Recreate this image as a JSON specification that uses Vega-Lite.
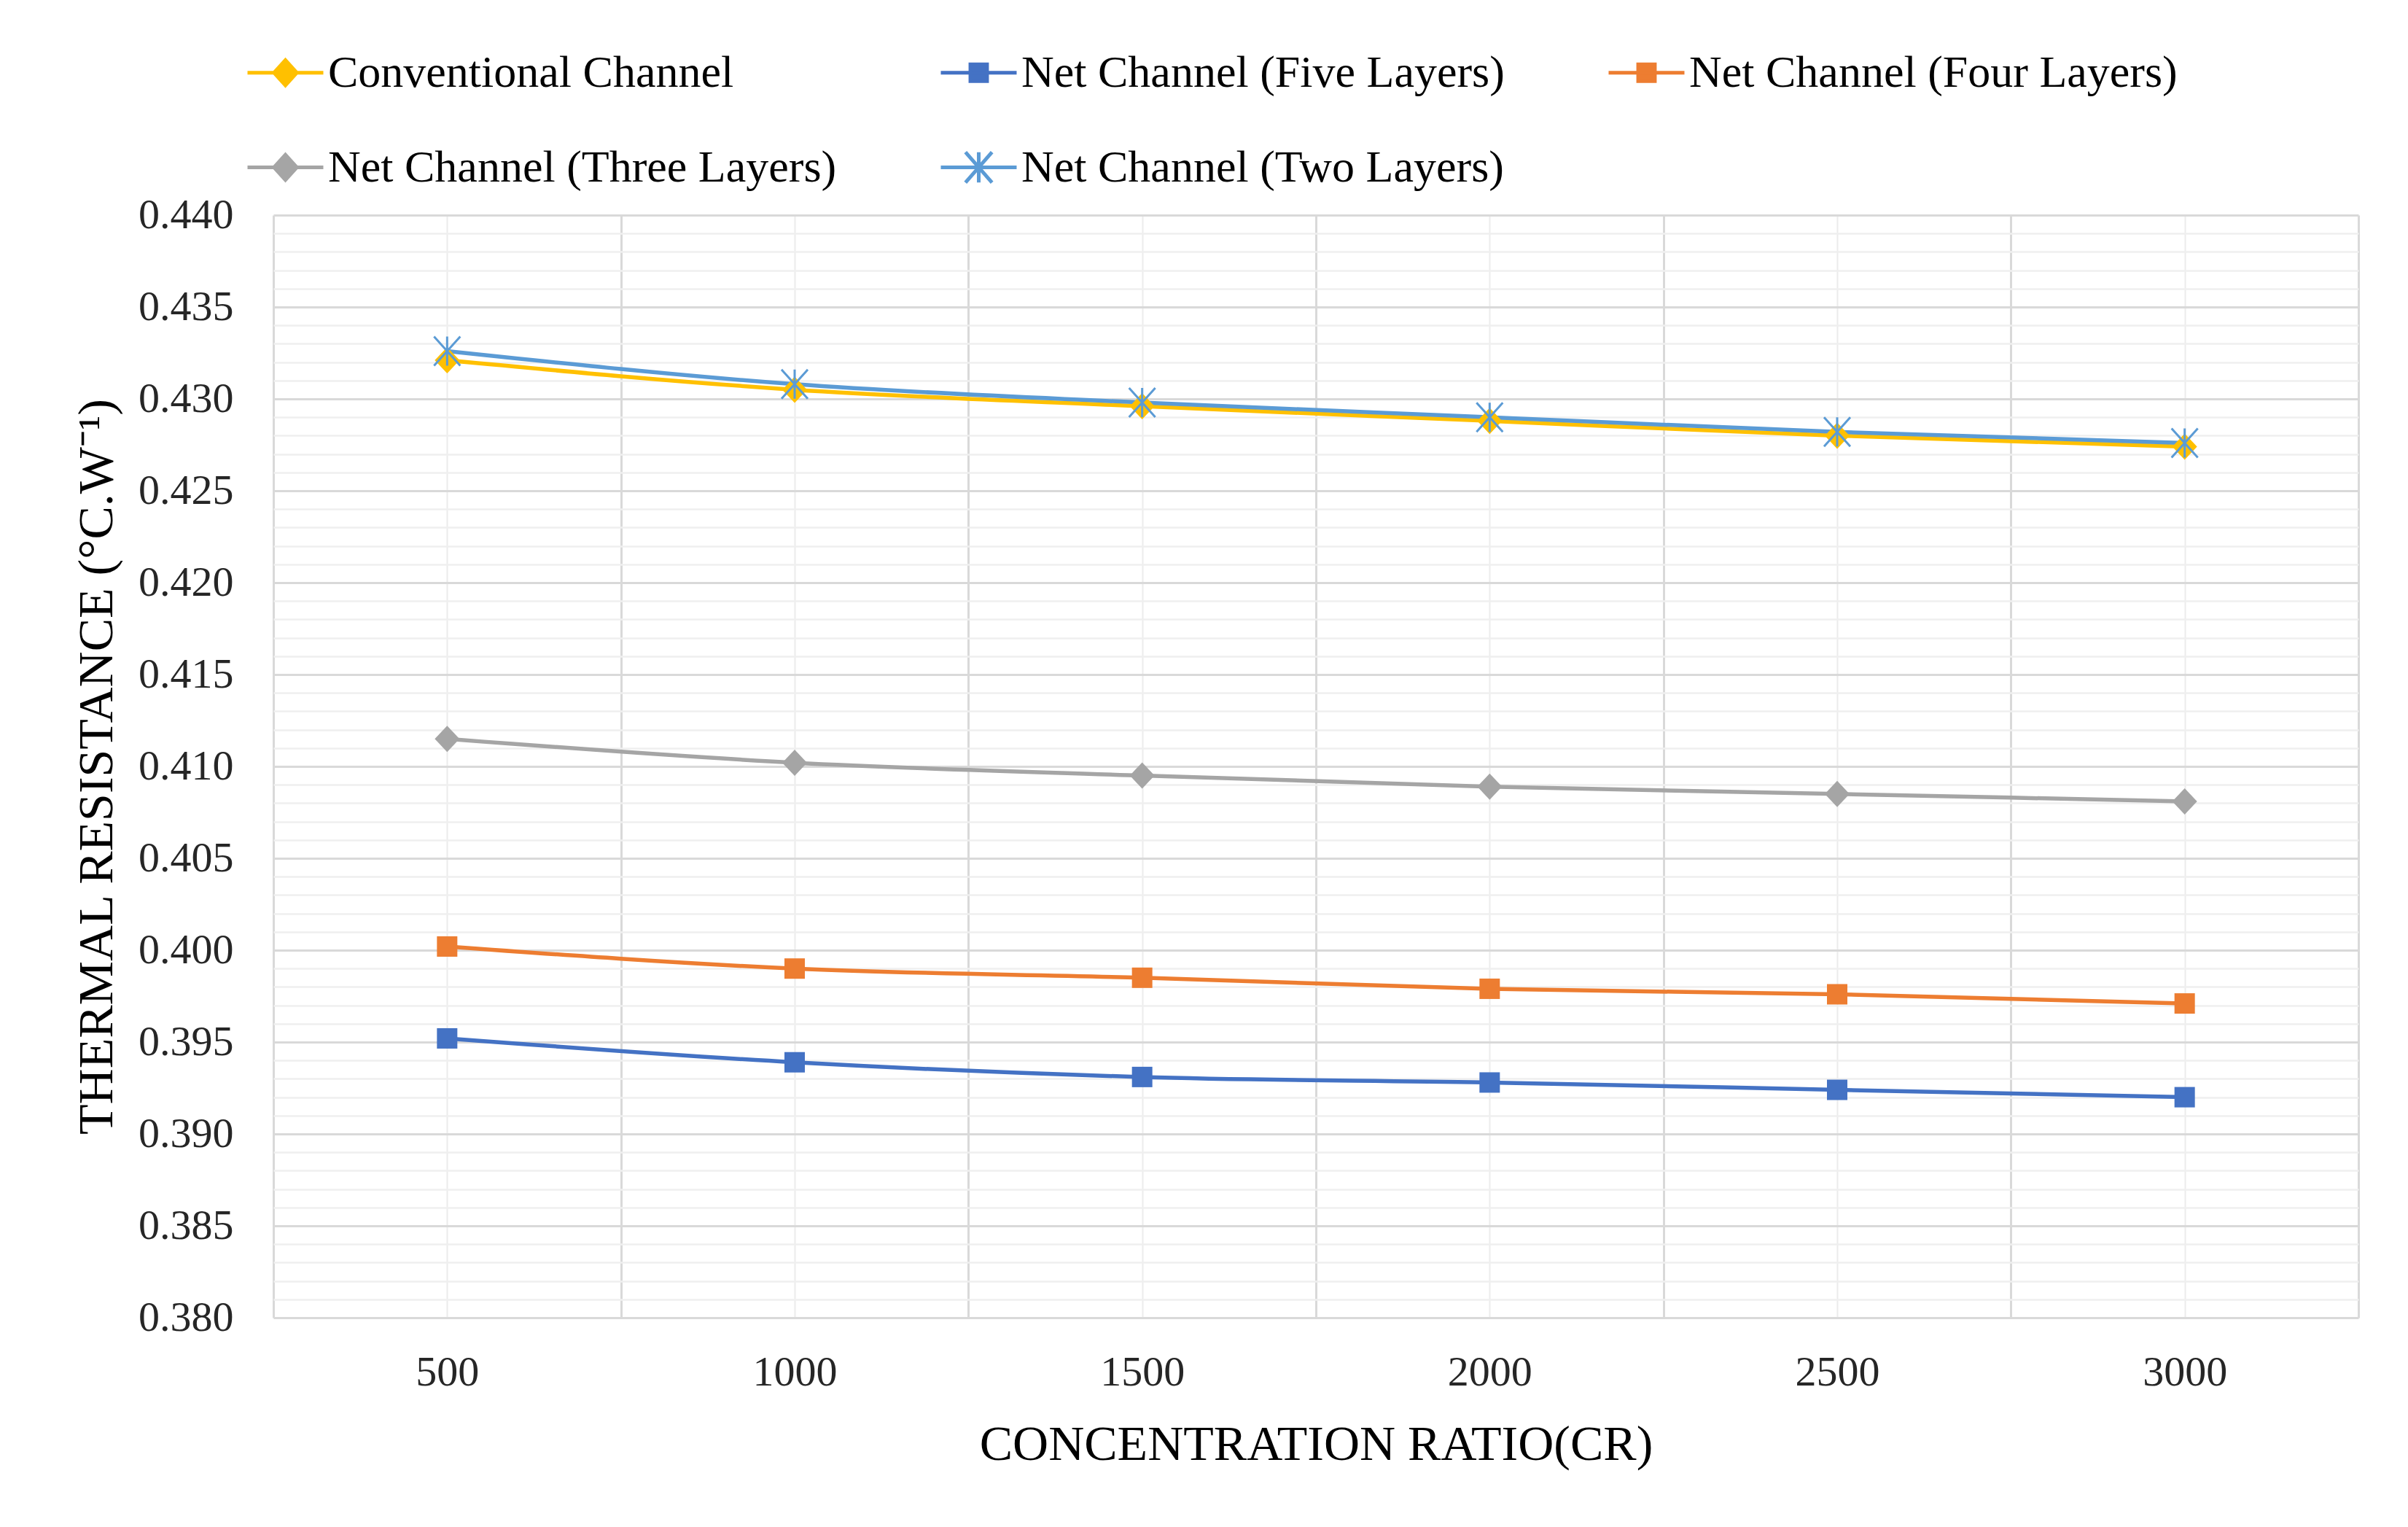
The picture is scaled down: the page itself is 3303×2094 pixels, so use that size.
{
  "$schema": "https://vega.github.io/schema/vega-lite/v6.json",
  "autosize": {"type": "none"},
  "padding": {"left": 375, "top": 295, "right": 68, "bottom": 287},
  "width": 2860,
  "height": 1512,
  "background": "white",
  "config": {"view": {"stroke": null}},
  "data": {"values": [
    {"cr": 500, "series": "Conventional Channel", "r": 0.4321},
    {"cr": 1000, "series": "Conventional Channel", "r": 0.4305},
    {"cr": 1500, "series": "Conventional Channel", "r": 0.4296},
    {"cr": 2000, "series": "Conventional Channel", "r": 0.4288},
    {"cr": 2500, "series": "Conventional Channel", "r": 0.4280},
    {"cr": 3000, "series": "Conventional Channel", "r": 0.4274},
    {"cr": 500, "series": "Net Channel (Five Layers)", "r": 0.3952},
    {"cr": 1000, "series": "Net Channel (Five Layers)", "r": 0.3939},
    {"cr": 1500, "series": "Net Channel (Five Layers)", "r": 0.3931},
    {"cr": 2000, "series": "Net Channel (Five Layers)", "r": 0.3928},
    {"cr": 2500, "series": "Net Channel (Five Layers)", "r": 0.3924},
    {"cr": 3000, "series": "Net Channel (Five Layers)", "r": 0.3920},
    {"cr": 500, "series": "Net Channel (Four Layers)", "r": 0.4002},
    {"cr": 1000, "series": "Net Channel (Four Layers)", "r": 0.3990},
    {"cr": 1500, "series": "Net Channel (Four Layers)", "r": 0.3985},
    {"cr": 2000, "series": "Net Channel (Four Layers)", "r": 0.3979},
    {"cr": 2500, "series": "Net Channel (Four Layers)", "r": 0.3976},
    {"cr": 3000, "series": "Net Channel (Four Layers)", "r": 0.3971},
    {"cr": 500, "series": "Net Channel (Three Layers)", "r": 0.4115},
    {"cr": 1000, "series": "Net Channel (Three Layers)", "r": 0.4102},
    {"cr": 1500, "series": "Net Channel (Three Layers)", "r": 0.4095},
    {"cr": 2000, "series": "Net Channel (Three Layers)", "r": 0.4089},
    {"cr": 2500, "series": "Net Channel (Three Layers)", "r": 0.4085},
    {"cr": 3000, "series": "Net Channel (Three Layers)", "r": 0.4081},
    {"cr": 500, "series": "Net Channel (Two Layers)", "r": 0.4326},
    {"cr": 1000, "series": "Net Channel (Two Layers)", "r": 0.4308},
    {"cr": 1500, "series": "Net Channel (Two Layers)", "r": 0.4298},
    {"cr": 2000, "series": "Net Channel (Two Layers)", "r": 0.4290},
    {"cr": 2500, "series": "Net Channel (Two Layers)", "r": 0.4282},
    {"cr": 3000, "series": "Net Channel (Two Layers)", "r": 0.4276}
  ]},
  "encoding": {
    "x": {
      "field": "cr", "type": "quantitative",
      "scale": {"domain": [250, 3250], "nice": false, "zero": false},
      "axis": {
        "values": [250, 500, 750, 1000, 1250, 1500, 1750, 2000, 2250, 2500, 2750, 3000, 3250],
        "labelExpr": "datum.value % 500 === 0 ? format(datum.value, 'd') : ''",
        "labelOverlap": false,
        "labelBound": false,
        "grid": true,
        "gridColor": {"condition": {"test": "datum.value % 500 === 250", "value": "#d9d9d9"}, "value": "#ececec"},
        "gridWidth": {"condition": {"test": "datum.value % 500 === 250", "value": 3}, "value": 2},
        "ticks": false,
        "domain": false,
        "labelFont": "Liberation Serif",
        "labelFontSize": 58,
        "labelColor": "#262626",
        "labelPadding": 46,
        "title": "CONCENTRATION RATIO(CR)",
        "titleFont": "Liberation Serif",
        "titleFontSize": 68,
        "titleFontWeight": "normal",
        "titleColor": "#000000",
        "titlePadding": 36
      }
    },
    "y": {
      "field": "r", "type": "quantitative",
      "scale": {"domain": [0.38, 0.44], "nice": false, "zero": false},
      "axis": {
        "values": [0.380, 0.381, 0.382, 0.383, 0.384, 0.385, 0.386, 0.387, 0.388, 0.389, 0.390, 0.391, 0.392, 0.393, 0.394, 0.395, 0.396, 0.397, 0.398, 0.399, 0.400, 0.401, 0.402, 0.403, 0.404, 0.405, 0.406, 0.407, 0.408, 0.409, 0.410, 0.411, 0.412, 0.413, 0.414, 0.415, 0.416, 0.417, 0.418, 0.419, 0.420, 0.421, 0.422, 0.423, 0.424, 0.425, 0.426, 0.427, 0.428, 0.429, 0.430, 0.431, 0.432, 0.433, 0.434, 0.435, 0.436, 0.437, 0.438, 0.439, 0.440],
        "labelExpr": "round(datum.value * 1000) % 5 === 0 ? format(datum.value, '.3f') : ''",
        "labelOverlap": false,
        "labelBound": false,
        "grid": true,
        "gridColor": {"condition": {"test": "round(datum.value * 1000) % 5 === 0", "value": "#d9d9d9"}, "value": "#efefef"},
        "gridWidth": {"condition": {"test": "round(datum.value * 1000) % 5 === 0", "value": 3}, "value": 2.5},
        "ticks": false,
        "domain": false,
        "labelFont": "Liberation Serif",
        "labelFontSize": 58,
        "labelColor": "#262626",
        "labelPadding": 55,
        "title": "THERMAL RESISTANCE (°C.W⁻¹)",
        "titleFont": "Liberation Serif",
        "titleFontSize": 68,
        "titleFontWeight": "normal",
        "titleColor": "#000000",
        "titlePadding": 22
      }
    }
  },
  "layer": [
    {
      "mark": {"type": "line", "interpolate": "monotone", "strokeWidth": 5.5},
      "encoding": {
        "color": {
          "field": "series", "type": "nominal",
          "scale": {
            "domain": ["Conventional Channel", "Net Channel (Five Layers)", "Net Channel (Four Layers)", "Net Channel (Three Layers)", "Net Channel (Two Layers)"],
            "range": ["#FFC000", "#4472C4", "#ED7D31", "#A5A5A5", "#5B9BD5"]
          },
          "legend": {
            "orient": "none",
            "legendX": -38,
            "legendY": -250,
            "direction": "horizontal",
            "columns": 3,
            "title": null,
            "symbolType": "circle",
            "symbolSize": 10816,
            "symbolStrokeWidth": 5,
            "labelFont": "Liberation Serif",
            "labelFontSize": 62,
            "labelColor": "#000000",
            "labelOffset": 4,
            "labelLimit": 0,
            "columnPadding": 132,
            "rowPadding": 44,
            "encode": {
              "symbols": {
                "update": {
                  "shape": {"signal": "datum.value === 'Net Channel (Two Layers)' ? 'M-1,0H1M-0.35,-0.4L0.35,0.4M-0.35,0.4L0.35,-0.4M0,-0.4V0.4' : ((datum.value === 'Net Channel (Five Layers)' || datum.value === 'Net Channel (Four Layers)') ? 'M-1,0H1M-0.22,-0.22H0.22V0.22H-0.22Z' : 'M-1,0H1M-0.3,0L0,-0.33L0.3,0L0,0.33Z')"},
                  "fill": {"scale": "color", "field": "value"},
                  "stroke": {"scale": "color", "field": "value"},
                  "opacity": {"value": 1}
                }
              }
            }
          }
        }
      }
    },
    {
      "transform": [{"filter": "datum.series !== 'Net Channel (Two Layers)'"}],
      "mark": {"type": "point", "filled": true, "size": 1600, "opacity": 1},
      "encoding": {
        "color": {"field": "series", "type": "nominal", "legend": null},
        "shape": {
          "field": "series", "type": "nominal", "legend": null,
          "scale": {
            "domain": ["Conventional Channel", "Net Channel (Five Layers)", "Net Channel (Four Layers)", "Net Channel (Three Layers)"],
            "range": ["M-0.85,0L0,-0.9L0.85,0L0,0.9Z", "M-0.7,-0.7H0.7V0.7H-0.7Z", "M-0.7,-0.7H0.7V0.7H-0.7Z", "M-0.85,0L0,-0.9L0.85,0L0,0.9Z"]
          }
        }
      }
    },
    {
      "transform": [{"filter": "datum.series === 'Net Channel (Two Layers)'"}],
      "mark": {"type": "point", "filled": false, "size": 1600, "strokeWidth": 3, "opacity": 1, "shape": "M-0.9,-1L0.9,1M-0.9,1L0.9,-1M0,-1V1"},
      "encoding": {
        "color": {"field": "series", "type": "nominal", "legend": null}
      }
    }
  ]
}
